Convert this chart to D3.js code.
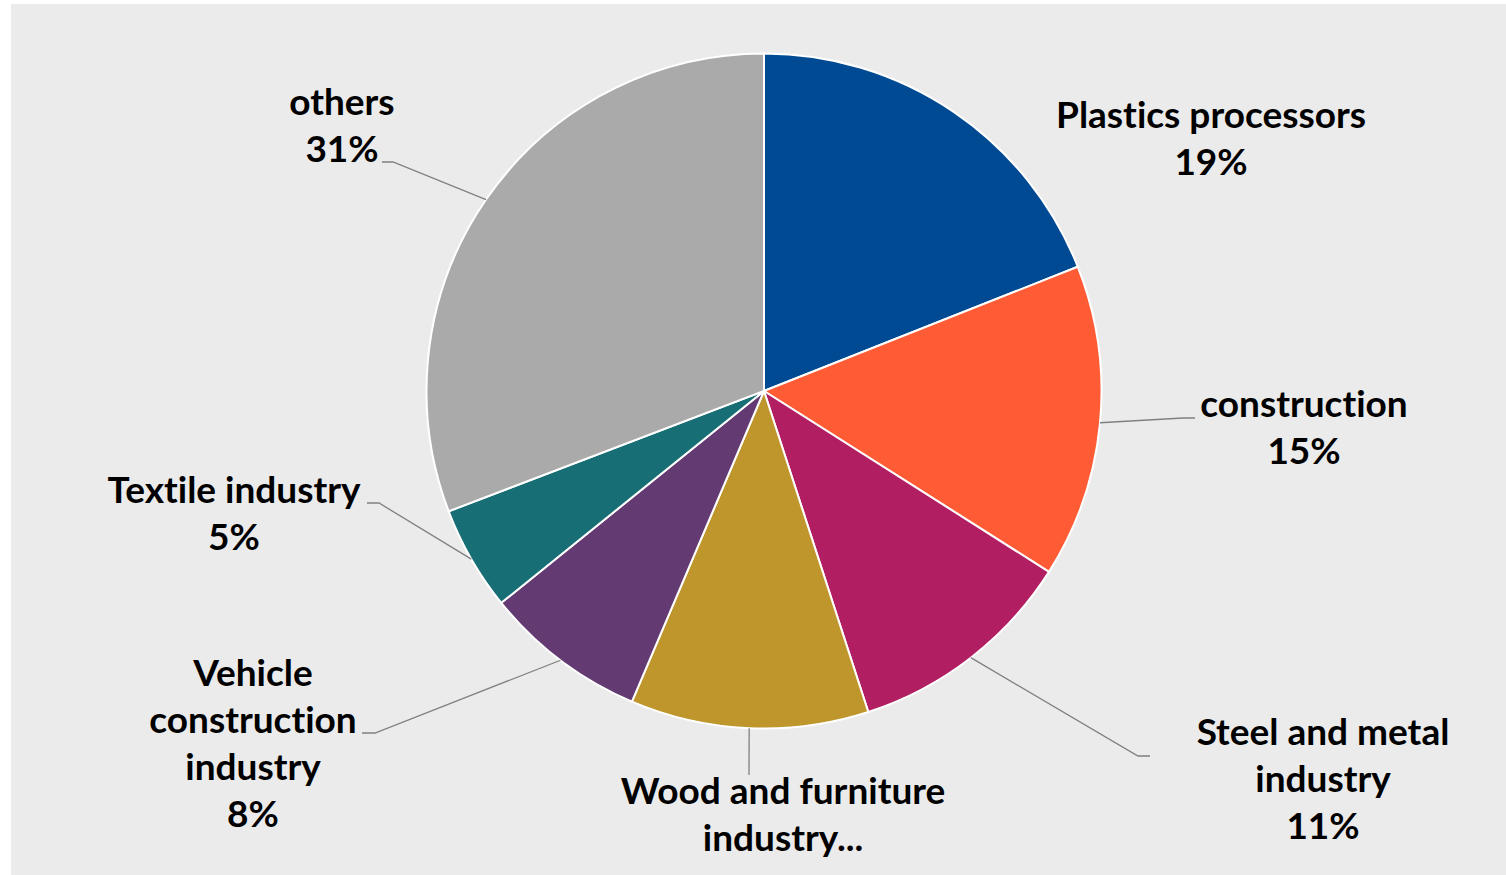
<!DOCTYPE html>
<html>
<head>
<meta charset="utf-8">
<script src="https://cdn.jsdelivr.net/npm/d3@7"></script>
<style>
  html, body { margin: 0; padding: 0; background: #ffffff; }
  svg { display: block; }
  text { font-family: Lato, "Source Sans Pro", "Open Sans", sans-serif; font-weight: 700; font-variant-ligatures: none; font-feature-settings: "liga" 0; }
</style>
</head>
<body>
<svg id="chart" width="1506" height="875"></svg>
<script>
// ---- data ----
const categories = ["Plastics processors", "construction", "Steel and metal industry", "Wood and furniture industry", "Vehicle construction industry", "Textile industry", "others"];
const values = [19, 15, 11, 11.4, 7.8, 5, 30.8];
const pctLabels = ["19%", "15%", "11%", null, "8%", "5%", "31%"];
const colors = ["#004a93", "#ff5b35", "#b11e62", "#bf962b", "#633b72", "#176e75", "#aaaaaa"];

// ---- layout (positions only) ----
const labelLines = [
  ["Plastics processors", "19%"],
  ["construction", "15%"],
  ["Steel and metal", "industry", "11%"],
  ["Wood and furniture", "industry..."],
  ["Vehicle", "construction", "industry", "8%"],
  ["Textile industry", "5%"],
  ["others", "31%"]
];
// label anchor: centre x, first baseline y
const labelAnchor = [[1211, 128], [1304, 417], [1323, 745], [783, 804], [253, 686], [234, 503], [342, 115]];
// leader: [elbowX, elbowY, endX] or null
const leaders = [null, [1183, 418, 1195], [1138, 756, 1150], [749, 775, 749], [375, 733, 362], [379, 503, 367], [393, 162, 382]];

const W = 1506, H = 875;
const cx = 764, cy = 391, R = 337.5;
const lineH = 47;

const svg = d3.select("#chart");
svg.append("rect").attr("x", 11).attr("y", 4).attr("width", W - 11).attr("height", H - 4).attr("fill", "#ebebeb");

const pie = d3.pie().sort(null).value(d => d)(values);
const arc = d3.arc().innerRadius(0).outerRadius(R);

const g = svg.append("g").attr("transform", `translate(${cx},${cy})`);
g.selectAll("path.slice").data(pie).join("path")
  .attr("class", "slice")
  .attr("d", arc)
  .attr("fill", (d, i) => colors[i])
  .attr("stroke", "#ffffff")
  .attr("stroke-width", 2)
  .attr("stroke-linejoin", "round");

// leader lines
pie.forEach((d, i) => {
  const L = leaders[i];
  if (!L) return;
  const a = (d.startAngle + d.endAngle) / 2;
  const sx = cx + R * Math.sin(a), sy = cy - R * Math.cos(a);
  svg.append("polyline")
    .attr("points", `${sx},${sy} ${L[0]},${L[1]} ${L[2]},${L[1]}`)
    .attr("fill", "none")
    .attr("stroke", "#808080")
    .attr("stroke-width", 1.3);
});

// labels
const fontSize = 37;
labelLines.forEach((lines, i) => {
  const t = svg.append("text")
    .attr("text-anchor", "middle")
    .attr("font-size", fontSize)
    .attr("fill", "#000000");
  lines.forEach((ln, j) => {
    t.append("tspan")
      .attr("x", labelAnchor[i][0])
      .attr("y", labelAnchor[i][1] + j * lineH)
      .text(ln);
  });
});
</script>
</body>
</html>
